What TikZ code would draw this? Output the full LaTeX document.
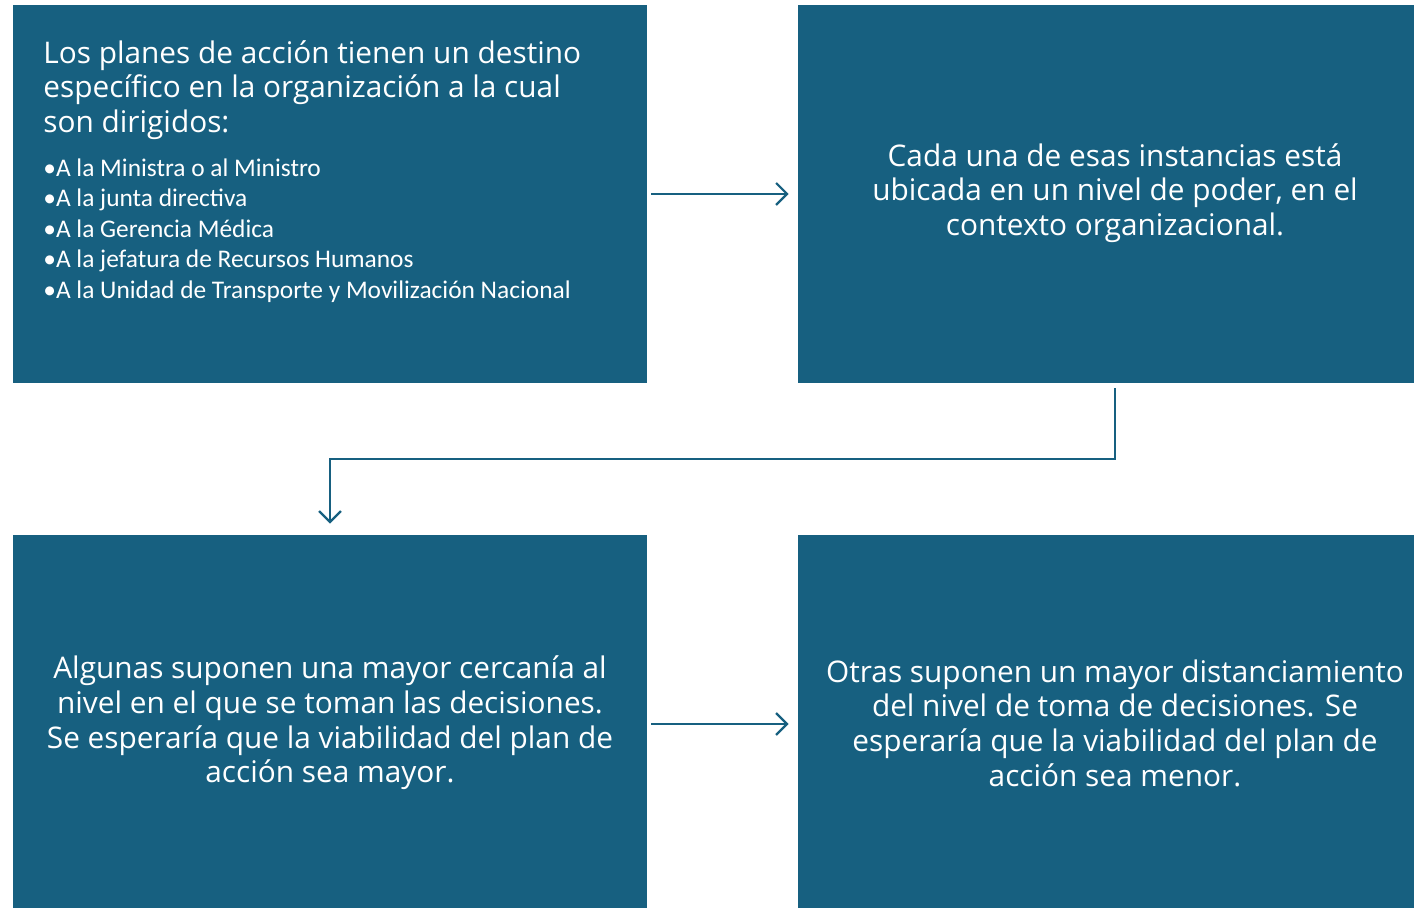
\documentclass[tikz,border=0pt]{standalone}
\usepackage{fontspec}
\setmainfont{Open Sans}
\newfontfamily\narrowfont{Carlito}
\usetikzlibrary{arrows.meta}
\definecolor{boxblue}{HTML}{176080}
\begin{document}
\begin{tikzpicture}
  [x=0.5pt,y=-0.5pt,
   box/.style={rectangle,fill=boxblue,minimum width=317pt,minimum height=189pt,inner sep=0pt},
   boxtext/.style={text=white,font=\fontsize{14.9}{17.3}\selectfont,align=center},
   link/.style={draw=boxblue,line width=1.1pt,-{Straight Barb[length=5.5pt,width=11pt,line width=1.1pt]}}]
\useasboundingbox (0,0) rectangle (1414,908);
\clip (0,0) rectangle (1414,908);
\node (b1)[box] at (330,194) {};
  \node (b2)[box] at (1115,194) {};
  \node (b3)[box] at (330,724) {};
  \node (b4)[box] at (1115,724) {};

\node (t1)[anchor=north west,boxtext,align=left,inner sep=0pt] at (43,40)
  {Los planes de acción tienen un destino\\
   específico en la organización a la cual\\
   son dirigidos:};
  \node (l1)[anchor=north west,text=white,align=left,inner sep=0pt,
   font=\narrowfont\fontsize{12.7}{15.25}\selectfont] at (43,158)
  {•A la Ministra o al Ministro\\
   •A la junta directiva\\
   •A la Gerencia Médica\\
   •A la jefatura de Recursos Humanos\\
   •A la Unidad de Transporte y Movilización Nacional};
  \node (t2)[boxtext] at (1115,193) {Cada una de esas instancias está\\
   ubicada en un nivel de poder, en el\\
   contexto organizacional.};
  \node (t3)[boxtext] at (330,723) {Algunas suponen una mayor cercanía al\\
   nivel en el que se toman las decisiones.\\
   Se esperaría que la viabilidad del plan de\\
   acción sea mayor.};
  \node (t4)[boxtext] at (1115,723) {Otras suponen un mayor distanciamiento\\
   del nivel de toma de decisiones. Se\\
   esperaría que la viabilidad del plan de\\
   acción sea menor.};

 \path [link] (b1) edge [shorten <=2pt,shorten >=4.5pt] (b2)
(b3) edge [shorten <=2pt,shorten >=4.5pt] (b4);
     \draw[link,shorten <=2.5pt,shorten >=5.5pt]
  (b2.south) -- ++(0,76) -| (b3.north);
\end{tikzpicture}
\end{document}
